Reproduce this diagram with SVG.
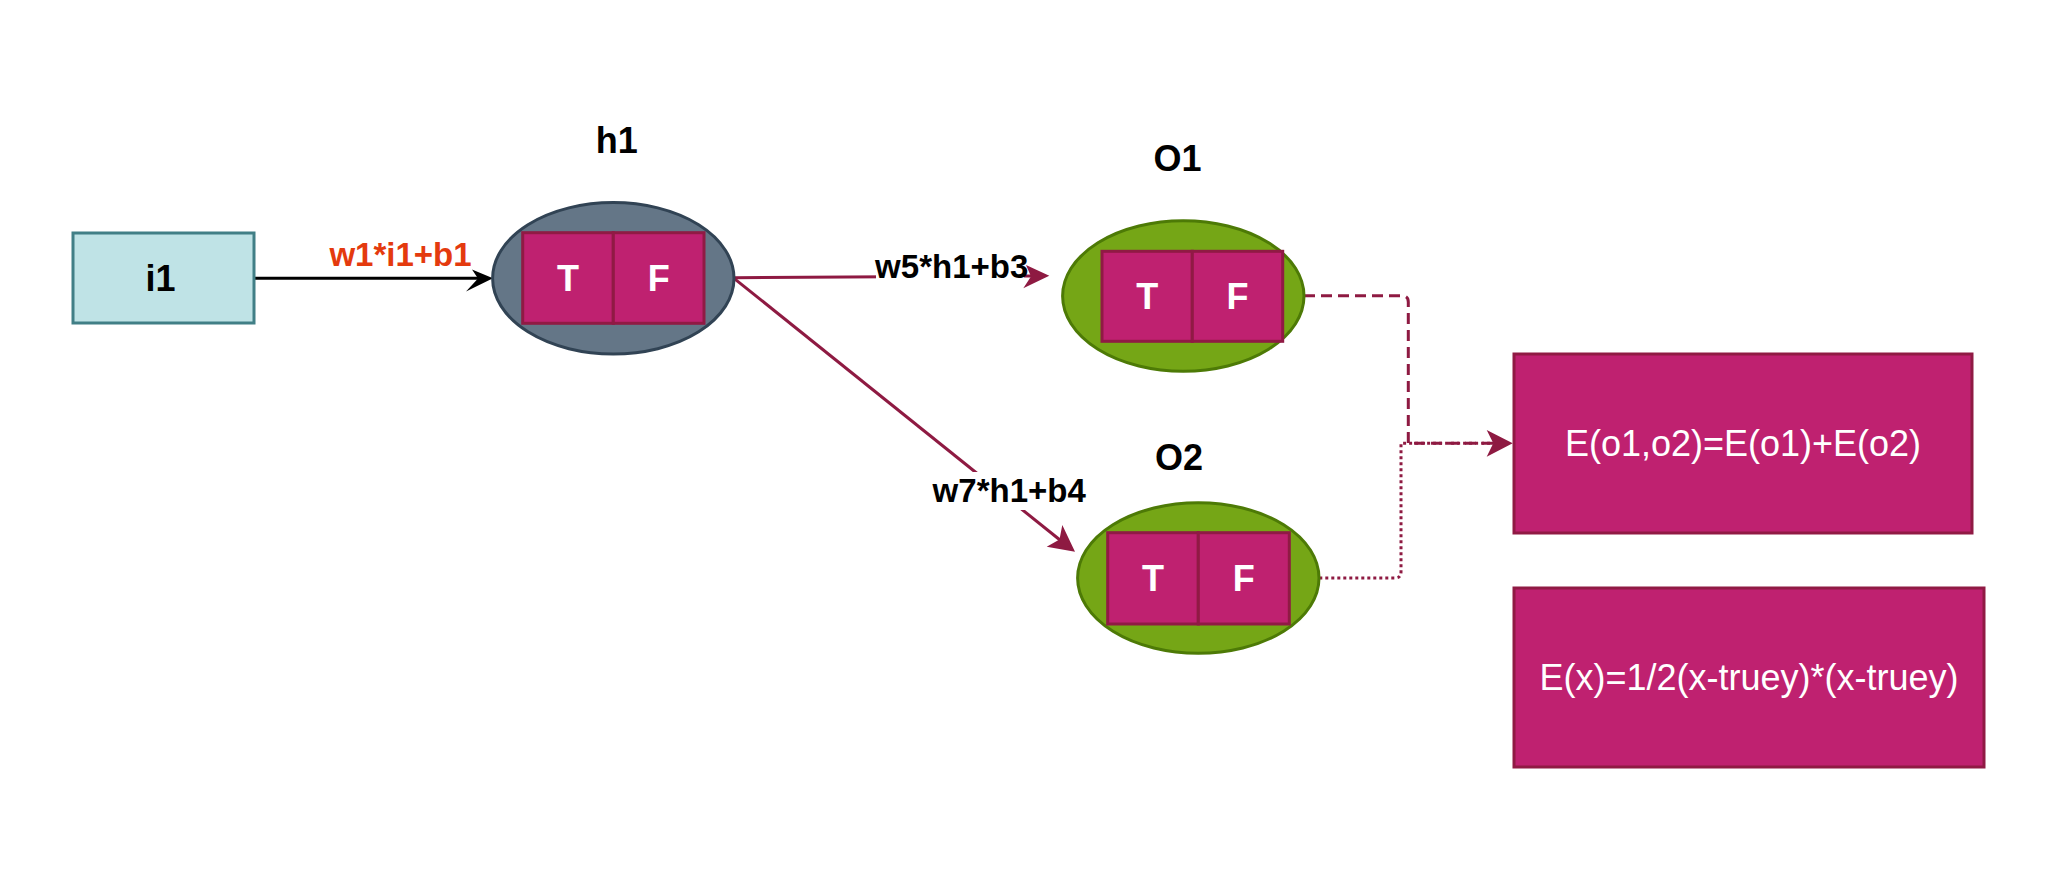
<svg xmlns="http://www.w3.org/2000/svg" width="2049" height="876" viewBox="0 0 2049 876">
<style>
text{font-family:"Liberation Sans",Arial,sans-serif;}
.title{font-size:36px;font-weight:bold;fill:#000;text-anchor:middle;}
.cell{fill:#bf2170;stroke:#901a44;stroke-width:3;}
.cellt{font-size:36px;font-weight:bold;fill:#fff;text-anchor:middle;}
.lbl{font-size:33px;font-weight:bold;fill:#000;text-anchor:middle;}
.big{font-size:36px;fill:#fff;text-anchor:middle;}
.edge{fill:none;stroke:#8e1a42;stroke-width:3;}
.head{fill:#8e1a42;stroke:none;}
.green{fill:#75a616;stroke:#4d7a06;stroke-width:3;}
</style>
<rect width="2049" height="876" fill="#fff"/>
<g id="connectors">
<path d="M254,278.3 H480" fill="none" stroke="#000" stroke-width="3"/>
<polygon points="493,278.3 472,269.5 478,278.5 466,291.5" fill="#000"/>
<path class="edge" d="M734,277.7 L1032,275.9"/>
<path class="edge" d="M734,278.3 L1060,540"/>
<path class="edge" d="M1304,295.7 H1402 Q1408.3,295.7 1408.3,302 V443.3 H1494" stroke-dasharray="11 6"/>
<path class="edge" d="M1289.3,578 H1395 Q1401,578 1401,572 V443.3 H1494" stroke-dasharray="3 3"/>
<polygon class="head" points="1512.7,443.3 1486.7,430 1493.3,443.3 1486.7,456.7"/>
<g id="label-w1">
<text x="400.5" y="266" class="lbl" style="fill:#e43a0e">w1*i1+b1</text>
</g>
<g id="label-w5">
<rect x="876" y="255" width="148" height="31" fill="#fff"/>
<text x="951.7" y="278.3" class="lbl">w5*h1+b3</text>
</g>
<polygon class="head" points="1049.3,275.7 1026,265 1031,276.5 1023.3,288.3"/>
<g id="label-w7">
<rect x="930" y="472" width="158" height="38" fill="#fff"/>
<text x="1009.2" y="502.3" class="lbl">w7*h1+b4</text>
</g>
<polygon class="head" points="1075,551.7 1062.3,525 1059.5,539.5 1046.7,546.7"/>
</g>
<g id="i1">
<rect x="73" y="233" width="181" height="90" fill="#bfe3e6" stroke="#417f86" stroke-width="3"/>
<text x="160.5" y="291" class="title">i1</text>
</g>
<g id="h1">
<text x="616.7" y="152.7" class="title">h1</text>
<ellipse cx="613.3" cy="278.3" rx="120.7" ry="75.7" fill="#647687" stroke="#314354" stroke-width="3"/>
<rect class="cell" x="522.7" y="232.7" width="90.6" height="90.6"/>
<rect class="cell" x="613.3" y="232.7" width="90.7" height="90.6"/>
<text x="568" y="291" class="cellt">T</text>
<text x="658.7" y="291" class="cellt">F</text>
</g>
<g id="O1">
<text x="1177.5" y="170.7" class="title">O1</text>
<ellipse class="green" cx="1183.3" cy="296" rx="120.7" ry="75.3"/>
<rect class="cell" x="1102" y="251.3" width="90.3" height="90"/>
<rect class="cell" x="1192.3" y="251.3" width="90.4" height="90"/>
<text x="1147.2" y="309.3" class="cellt">T</text>
<text x="1237.5" y="309.3" class="cellt">F</text>
</g>
<g id="O2">
<text x="1179" y="470" class="title">O2</text>
<ellipse class="green" cx="1198.3" cy="578" rx="120.7" ry="75.3"/>
<rect class="cell" x="1107.7" y="532.7" width="90.6" height="91.3"/>
<rect class="cell" x="1198.3" y="532.7" width="91" height="91.3"/>
<text x="1153" y="591" class="cellt">T</text>
<text x="1243.8" y="591" class="cellt">F</text>
</g>
<g id="E-sum">
<rect class="cell" x="1514" y="354" width="458" height="179"/>
<text x="1743" y="456" class="big">E(o1,o2)=E(o1)+E(o2)</text>
</g>
<g id="E-x">
<rect class="cell" x="1514" y="588" width="470" height="179"/>
<text x="1749" y="690" class="big">E(x)=1/2(x-truey)*(x-truey)</text>
</g>
</svg>
